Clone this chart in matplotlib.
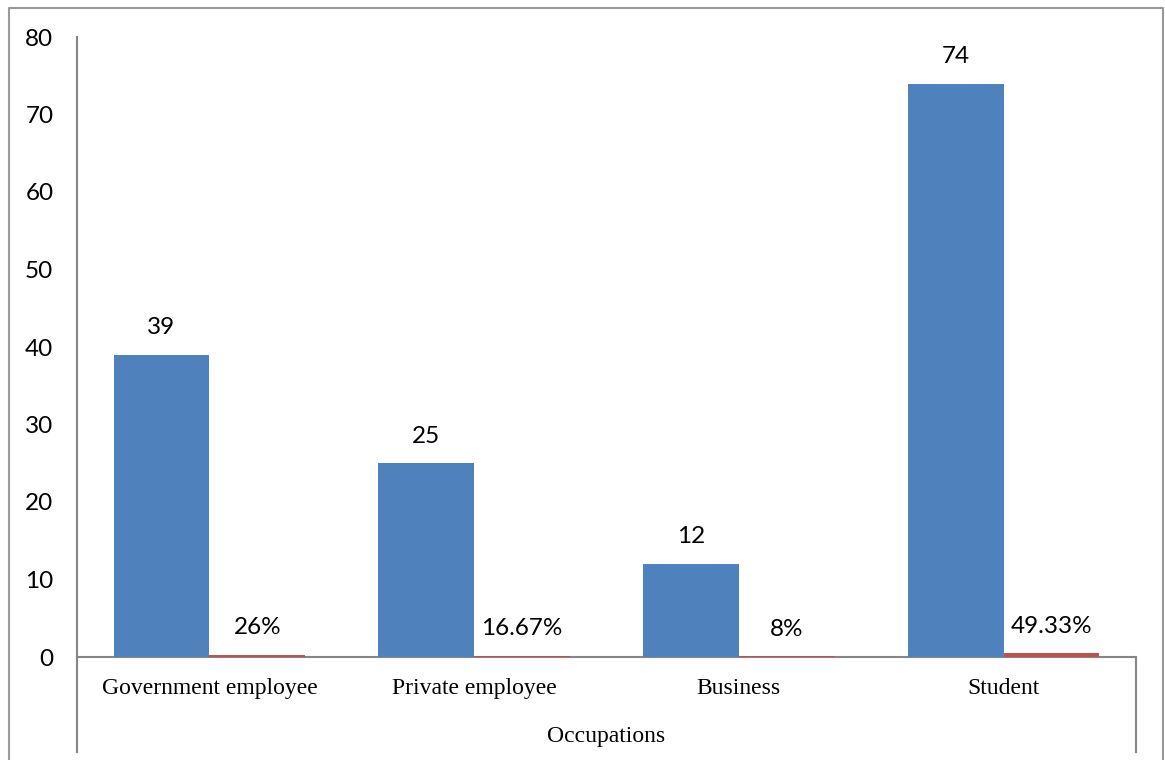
import matplotlib.pyplot as plt
from matplotlib.lines import Line2D
import numpy as np

# occupation breakdown: counts and share of respondents
occupations = ['Government employee', 'Private employee', 'Business', 'Student']
counts = [39, 25, 12, 74]
shares = [0.26, 0.1667, 0.08, 0.4933]
share_labels = ['26%', '16.67%', '8%', '49.33%']
yticks = [0, 10, 20, 30, 40, 50, 60, 70, 80]

blue = '#4F81BD'
red = '#C0504D'
gray = '#868686'
num_font = 'Lato'
cat_font = 'Liberation Serif'

fig = plt.figure(figsize=(11.65, 7.6), dpi=100)
ax = fig.add_axes([77 / 1165, 1 - 657 / 760, (1136 - 77) / 1165, 620 / 760])

x = np.arange(len(occupations))
w = 0.362
b1 = ax.bar(x - w / 2, counts, w, color=blue, zorder=3)
b2 = ax.bar(x + w / 2, shares, w, color=red, zorder=3)

# value labels above each bar
for rect, v in zip(b1, counts):
    ax.annotate(str(v), (rect.get_x() + rect.get_width() / 2, rect.get_height()),
                xytext=(0, 19.5), textcoords='offset points', ha='center', va='center',
                fontsize=17.5, family=num_font)
for rect, lab in zip(b2, share_labels):
    ax.annotate(lab, (rect.get_x() + rect.get_width() / 2, rect.get_height()),
                xytext=(0, 19.5), textcoords='offset points', ha='center', va='center',
                fontsize=17.5, family=num_font)

ax.set_xlim(-0.5, len(occupations) - 0.5)
ax.set_ylim(0, 80)
ax.set_yticks(yticks)
ax.set_yticklabels([str(t) for t in yticks], fontsize=17.5, family=num_font)
ax.tick_params(axis='y', length=0, pad=17)
ax.set_xticks(x)
ax.set_xticklabels(occupations, fontsize=17, family=cat_font)
ax.tick_params(axis='x', length=0, pad=15)

for s in ['top', 'right']:
    ax.spines[s].set_visible(False)
for s in ['left', 'bottom']:
    ax.spines[s].set_color(gray)
    ax.spines[s].set_linewidth(1.5)

# category axis frame reaching below the labels
for xa in (0, 1):
    ax.add_line(Line2D([xa, xa], [0, -0.153], transform=ax.transAxes,
                       color=gray, lw=1.5, clip_on=False))
ax.text(0.5, -0.129, 'Occupations', transform=ax.transAxes, ha='center', va='center',
        fontsize=17, family=cat_font)

# chart area border
fx0, fx1, fy1 = 8.5 / 1165, 1163 / 1165, 1 - 7.5 / 760
fig.add_artist(Line2D([fx0, fx0, fx1, fx1], [0, fy1, fy1, 0], transform=fig.transFigure,
                      color='#999999', lw=1.5))

fig.savefig('out.png', dpi=100)
